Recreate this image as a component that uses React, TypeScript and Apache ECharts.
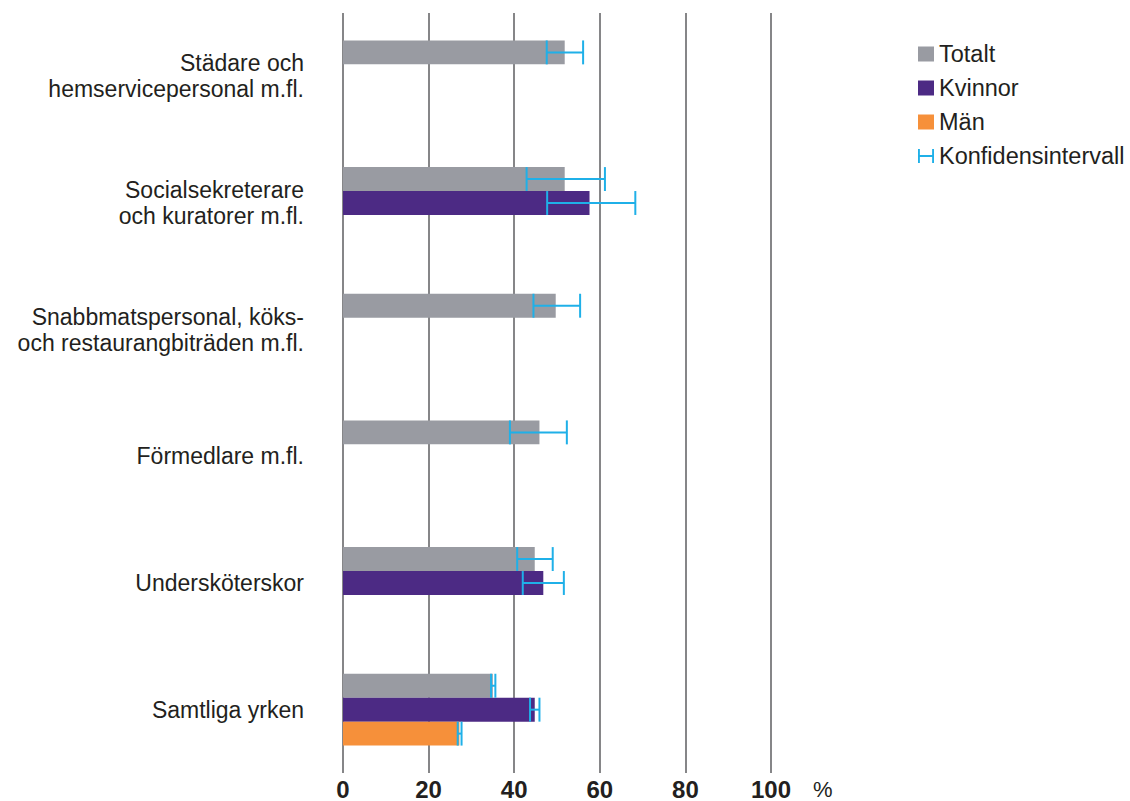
import React, { useEffect, useRef } from "react";
import * as echarts from "echarts";

const categories = [
  "Städare och\nhemservicepersonal m.fl.",
  "Socialsekreterare\noch kuratorer m.fl.",
  "Snabbmatspersonal, köks-\noch restaurangbiträden m.fl.",
  "Förmedlare m.fl.",
  "Undersköterskor",
  "Samtliga yrken",
];
const seriesNames = ["Totalt", "Kvinnor", "Män"];
const totalt = [51.8, 51.8, 49.7, 45.9, 44.8, 35.0];
const kvinnor: (number | string)[] = ["-", 57.6, "-", "-", 46.8, 44.8];
const man: (number | string)[] = ["-", "-", "-", "-", "-", 27.2];
const totaltCI: ([number, number] | null)[] = [
  [47.6, 56.1],
  [42.9, 61.2],
  [44.5, 55.4],
  [39.0, 52.3],
  [40.7, 49.0],
  [34.6, 35.6],
];
const kvinnorCI: ([number, number] | null)[] = [null, [47.7, 68.3], null, null, [42.0, 51.6], [43.7, 45.9]];
const manCI: ([number, number] | null)[] = [null, null, null, null, null, [26.8, 27.7]];
const xTicks = [0, 20, 40, 60, 80, 100];
const ciName = "Konfidensintervall";

const COLORS = ["#999ba2", "#4c2a84", "#f6903a"];
const CI_COLOR = "#1fb0e8";
const TEXT = "#231f20";
const FONT = "Liberation Sans";
const BAR_FRAC = 0.189;

export default function App() {
  const ref = useRef<HTMLDivElement>(null);
  useEffect(() => {
    if (!ref.current) return;
    const chart = echarts.init(ref.current, undefined, { renderer: "svg" });

    const ciData: number[][] = [];
    [totaltCI, kvinnorCI, manCI].forEach((arr, slot) => {
      arr.forEach((ci, cat) => {
        if (ci) ciData.push([ci[0], ci[1], cat, slot]);
      });
    });

    const barSeries = [totalt, kvinnor, man].map((d, i) => ({
      name: seriesNames[i],
      type: "bar",
      data: d,
      barWidth: (BAR_FRAC * 100).toFixed(1) + "%",
      barGap: "0%",
      itemStyle: { color: COLORS[i] },
      z: 2,
    }));

    chart.setOption({
      animation: false,
      textStyle: { fontFamily: FONT },
      grid: { left: 343, right: 359, top: 13, height: 765, containLabel: false },
      legend: {
        orient: "vertical",
        left: 918,
        top: 42,
        padding: 0,
        itemWidth: 16,
        itemHeight: 15,
        itemGap: 10,
        selectedMode: false,
        textStyle: { fontSize: 23.5, color: TEXT, fontFamily: FONT },
        data: [
          { name: "Totalt", icon: "rect" },
          { name: "Kvinnor", icon: "rect" },
          { name: "Män", icon: "rect" },
          {
            name: ciName,
            icon: "path://M0,0h2v15h-2z M2,6.5h13v2h-13z M15,0h2v15h-2z",
          },
        ],
      },
      xAxis: {
        type: "value",
        min: xTicks[0],
        max: xTicks[xTicks.length - 1],
        interval: 20,
        axisLine: { show: false },
        axisTick: { show: false },
        splitLine: { show: true, lineStyle: { color: "#5e5e60", width: 1.5 } },
        axisLabel: {
          fontSize: 24,
          fontWeight: "bold",
          color: TEXT,
          fontFamily: FONT,
          margin: 4,
        },
      },
      yAxis: {
        type: "category",
        inverse: true,
        data: categories,
        axisLine: { show: false },
        axisTick: { show: false },
        axisLabel: {
          fontSize: 23,
          lineHeight: 26,
          color: TEXT,
          fontFamily: FONT,
          align: "right",
          margin: 39,
        },
      },
      graphic: [
        {
          type: "text",
          x: 813,
          y: 789,
          style: {
            text: "%",
            fontSize: 22,
            lineHeight: 22,
            fill: TEXT,
            fontFamily: FONT,
            verticalAlign: "middle",
          },
        },
      ],
      series: [
        ...barSeries,
        {
          name: ciName,
          type: "custom",
          itemStyle: { color: CI_COLOR },
          encode: { x: [0, 1], y: 2 },
          data: ciData,
          z: 5,
          renderItem: (params: any, api: any) => {
            const lo = api.value(0);
            const hi = api.value(1);
            const cat = api.value(2);
            const slot = api.value(3);
            const p1 = api.coord([lo, cat]);
            const p2 = api.coord([hi, cat]);
            const band = api.size([0, 1])[1];
            const h = band * BAR_FRAC;
            const y = p1[1] + (slot - 1) * h;
            const half = h / 2;
            const style = { stroke: CI_COLOR, lineWidth: 2 };
            return {
              type: "group",
              children: [
                { type: "line", shape: { x1: p1[0], y1: y, x2: p2[0], y2: y }, style },
                { type: "line", shape: { x1: p1[0], y1: y - half, x2: p1[0], y2: y + half }, style },
                { type: "line", shape: { x1: p2[0], y1: y - half, x2: p2[0], y2: y + half }, style },
              ],
            };
          },
        },
      ],
    });
    return () => chart.dispose();
  }, []);
  return (
    <div
      ref={ref}
      style={{ position: "absolute", left: 0, top: 0, width: 1130, height: 801 }}
    />
  );
}
